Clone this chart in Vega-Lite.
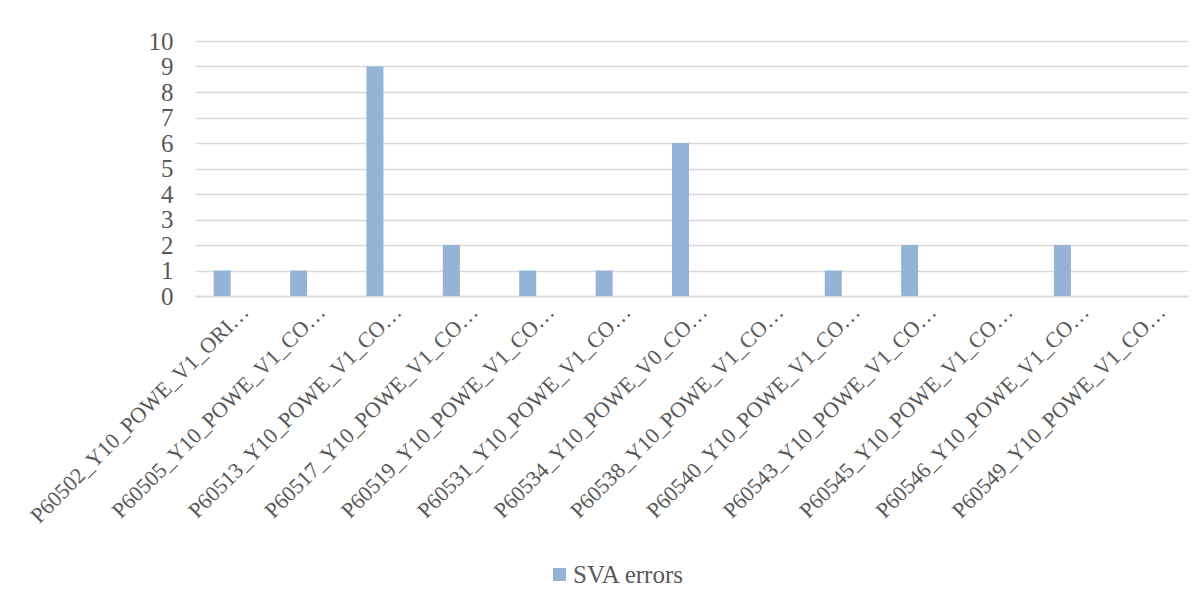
{
  "$schema": "https://vega.github.io/schema/vega-lite/v6.json",
  "width": 993,
  "height": 255,
  "autosize": {"type": "none"},
  "padding": {"left": 195, "top": 41, "right": 15, "bottom": 306},
  "background": "white",
  "config": {
    "view": {"stroke": null},
    "font": "Liberation Serif",
    "axis": {"labelColor": "#595959", "labelFont": "Liberation Serif"},
    "legend": {"labelColor": "#595959", "labelFont": "Liberation Serif"}
  },
  "data": {
    "values": [
      {"file": "P60502_Y10_POWE_V1_ORI…", "errors": 1, "series": "SVA errors"},
      {"file": "P60505_Y10_POWE_V1_CO…", "errors": 1, "series": "SVA errors"},
      {"file": "P60513_Y10_POWE_V1_CO…", "errors": 9, "series": "SVA errors"},
      {"file": "P60517_Y10_POWE_V1_CO…", "errors": 2, "series": "SVA errors"},
      {"file": "P60519_Y10_POWE_V1_CO…", "errors": 1, "series": "SVA errors"},
      {"file": "P60531_Y10_POWE_V1_CO…", "errors": 1, "series": "SVA errors"},
      {"file": "P60534_Y10_POWE_V0_CO…", "errors": 6, "series": "SVA errors"},
      {"file": "P60538_Y10_POWE_V1_CO…", "errors": 0, "series": "SVA errors"},
      {"file": "P60540_Y10_POWE_V1_CO…", "errors": 1, "series": "SVA errors"},
      {"file": "P60543_Y10_POWE_V1_CO…", "errors": 2, "series": "SVA errors"},
      {"file": "P60545_Y10_POWE_V1_CO…", "errors": 0, "series": "SVA errors"},
      {"file": "P60546_Y10_POWE_V1_CO…", "errors": 2, "series": "SVA errors"},
      {"file": "P60549_Y10_POWE_V1_CO…", "errors": 0, "series": "SVA errors"}
    ]
  },
  "mark": {"type": "bar", "width": 17, "xOffset": -11},
  "encoding": {
    "x": {
      "field": "file",
      "type": "nominal",
      "sort": null,
      "scale": {"paddingInner": 0, "paddingOuter": 0},
      "axis": {
        "title": null,
        "labelAngle": -45,
        "labelAlign": "right",
        "labelBaseline": "middle",
        "labelFontSize": 22,
        "labelPadding": 12,
        "labelOffset": 12,
        "labelLimit": 0,
        "ticks": false,
        "domainColor": "#D9D9D9",
        "domainWidth": 1.5
      }
    },
    "y": {
      "field": "errors",
      "type": "quantitative",
      "scale": {"domain": [0, 10], "nice": false},
      "axis": {
        "title": null,
        "values": [0, 1, 2, 3, 4, 5, 6, 7, 8, 9, 10],
        "labelFontSize": 25,
        "labelPadding": 22,
        "ticks": false,
        "domain": false,
        "gridColor": "#D9D9D9",
        "gridWidth": 1.5
      }
    },
    "color": {
      "field": "series",
      "type": "nominal",
      "scale": {"range": ["#95B3D7"]},
      "legend": {
        "title": null,
        "orient": "none",
        "legendX": 352,
        "legendY": 521,
        "symbolType": "square",
        "symbolSize": 169,
        "symbolStrokeWidth": 0,
        "labelFont": "Liberation Serif",
        "labelFontSize": 25,
        "labelOffset": 1
      }
    }
  }
}
